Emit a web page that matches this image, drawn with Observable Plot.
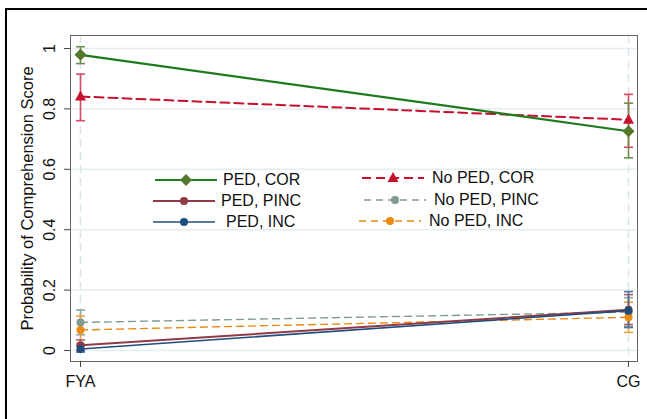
<!DOCTYPE html>
<html>
<head>
<meta charset="utf-8">
<script src="https://cdn.jsdelivr.net/npm/d3@7"></script>
<script src="https://cdn.jsdelivr.net/npm/@observablehq/plot@0.6"></script>
<style>
  html, body { margin: 0; padding: 0; background: #fff; }
  #wrap { position: relative; width: 647px; height: 419px; overflow: hidden; font-family: "Liberation Sans", Arial, sans-serif; }
  #border { position: absolute; left: 5px; top: 8px; width: 700px; height: 500px; border-left: 2px solid #000; border-top: 2px solid #000; }
  #legend { position: absolute; left: 0; top: 0; width: 647px; height: 419px; pointer-events: none; }
  .item { position: absolute; display: flex; align-items: center; height: 20px; font-size: 16px; color: #111; }
  .item span { margin-left: 6px; white-space: nowrap; }
</style>
</head>
<body>
<div id="wrap"><div id="chart"></div><div id="legend"></div><div id="border"></div></div>
<script>
// ---- data ----
const periods = ["FYA", "CG"];
const series = ["PED, COR", "PED, PINC", "PED, INC", "No PED, COR", "No PED, PINC", "No PED, INC"];
const estFYA  = [0.979, 0.017, 0.005, 0.841, 0.093, 0.068];
const lowFYA  = [0.950, 0.000, -0.005, 0.761, 0.052, 0.022];
const highFYA = [1.006, 0.035, 0.015, 0.915, 0.134, 0.114];
const estCG   = [0.726, 0.135, 0.132, 0.764, 0.127, 0.110];
const lowCG   = [0.638, 0.086, 0.076, 0.673, 0.080, 0.060];
const highCG  = [0.819, 0.185, 0.195, 0.848, 0.175, 0.160];
const yTicks = [0, 0.2, 0.4, 0.6, 0.8, 1];
const yTickLabels = ["0", "0.2", "0.4", "0.6", "0.8", "1"];
const yTitle = "Probability of Comprehension Score";

// ---- styles ----
const lineColor = ["#1f7a1f", "#8f3a45", "#1f4c7e", "#c8102e", "#7f9c90", "#ea8a10"];
const markColor = ["#55792c", "#8f3a45", "#1f4c7e", "#c8102e", "#7f9c90", "#ea8a10"];
const ciColor   = ["#6f8f4e", "#b0606a", "#4f74a0", "#d64a68", "#8fa89e", "#f0a040"];
const dash      = [null, null, null, "9,5", "7,5", "7,5"];
const lw        = [2.2, 2, 1.6, 2, 1.4, 1.4];
const markType  = ["diamond", "circle", "circle", "triangle", "circle", "circle"];
const drawOrder = [4, 5, 3, 0, 1, 2];

const rows = [];
series.forEach((s, i) => {
  rows.push({s, i, period: periods[0], est: estFYA[i], lo: lowFYA[i], hi: highFYA[i]});
  rows.push({s, i, period: periods[1], est: estCG[i], lo: lowCG[i], hi: highCG[i]});
});

const capSym = {draw(ctx) { ctx.moveTo(-4.5, 0); ctx.lineTo(4.5, 0); }};
const diamondSym = {draw(ctx) { ctx.moveTo(0, -6); ctx.lineTo(6, 0); ctx.lineTo(0, 6); ctx.lineTo(-6, 0); ctx.closePath(); }};
const triSym = {draw(ctx) { ctx.moveTo(0, -6); ctx.lineTo(5.5, 4); ctx.lineTo(-5.5, 4); ctx.closePath(); }};
const circSym = {draw(ctx) { ctx.moveTo(4, 0); ctx.arc(0, 0, 4, 0, 2 * Math.PI); }};
const symFor = t => t === "diamond" ? diamondSym : t === "triangle" ? triSym : circSym;

const marks = [
  Plot.ruleY(yTicks, {y: d => d, stroke: "#e4eef1", strokeWidth: 1.5}),
  Plot.ruleX(periods, {x: d => d, stroke: "#d8e6ec", strokeWidth: 1.6, strokeDasharray: "8,5"}),
];
for (const i of drawOrder) {
  const d = rows.filter(r => r.i === i);
  marks.push(Plot.ruleX(d, {x: "period", y1: "lo", y2: "hi", stroke: ciColor[i], strokeWidth: 1.6}));
  marks.push(Plot.dot(d, {x: "period", y: "lo", symbol: capSym, stroke: ciColor[i], strokeWidth: 1.6, fill: "none"}));
  marks.push(Plot.dot(d, {x: "period", y: "hi", symbol: capSym, stroke: ciColor[i], strokeWidth: 1.6, fill: "none"}));
}
for (const i of drawOrder) {
  const d = rows.filter(r => r.i === i);
  marks.push(Plot.line(d, {x: "period", y: "est", stroke: lineColor[i], strokeWidth: lw[i], strokeDasharray: dash[i]}));
}
for (const i of drawOrder) {
  const d = rows.filter(r => r.i === i);
  marks.push(Plot.dot(d, {x: "period", y: "est", symbol: symFor(markType[i]), fill: markColor[i], stroke: "none"}));
}
marks.push(
  Plot.frame({stroke: "#666", strokeWidth: 1}),
  Plot.axisY({ticks: yTicks, tickSize: 6, tickFormat: () => "", stroke: "#444"}),
  Plot.text(yTicks, {y: d => d, text: (d, k) => yTickLabels[k], frameAnchor: "left", dx: -21, rotate: -90, textAnchor: "middle", lineAnchor: "middle", fontSize: 16, fill: "#111"}),
  Plot.text([yTitle], {text: d => d, frameAnchor: "left", dx: -43, rotate: -90, textAnchor: "middle", lineAnchor: "middle", fontSize: 16.5, fill: "#111"}),
  Plot.axisX({tickSize: 6, tickPadding: 8, fontSize: 16, stroke: "#444", color: "#111"})
);

const chart = Plot.plot({
  width: 647, height: 419,
  marginLeft: 70, marginRight: 10, marginTop: 35, marginBottom: 58,
  style: {fontFamily: '"Liberation Sans", Arial, sans-serif', background: "transparent", overflow: "visible"},
  x: {type: "point", domain: periods, padding: 0, insetLeft: 10, insetRight: 9, label: null},
  y: {domain: [0, 1], insetTop: 13, insetBottom: 11, label: null},
  marks
});
document.getElementById("chart").appendChild(chart);

// ---- legend (inside plot area) ----
const legendPos = [
  {x: 155, y: 180}, {x: 153, y: 201}, {x: 153, y: 222},
  {x: 362, y: 178}, {x: 364, y: 200}, {x: 359, y: 221}
];
const legend = d3.select("#legend");
series.forEach((s, i) => {
  const it = legend.append("div").attr("class", "item")
    .style("left", legendPos[i].x + "px").style("top", (legendPos[i].y - 10) + "px");
  const svg = it.append("svg").attr("width", 62).attr("height", 20);
  svg.append("line").attr("x1", 0).attr("x2", 62).attr("y1", 10).attr("y2", 10)
    .attr("stroke", lineColor[i]).attr("stroke-width", lw[i]).attr("stroke-dasharray", dash[i]);
  const p = d3.path();
  symFor(markType[i]).draw(p);
  svg.append("path").attr("d", p.toString()).attr("transform", "translate(31,10)").attr("fill", markColor[i]);
  it.append("span").text(s).style("margin-left", (i === 2 ? 11 : i >= 3 ? 8 : 6) + "px");
});
</script>
</body>
</html>
